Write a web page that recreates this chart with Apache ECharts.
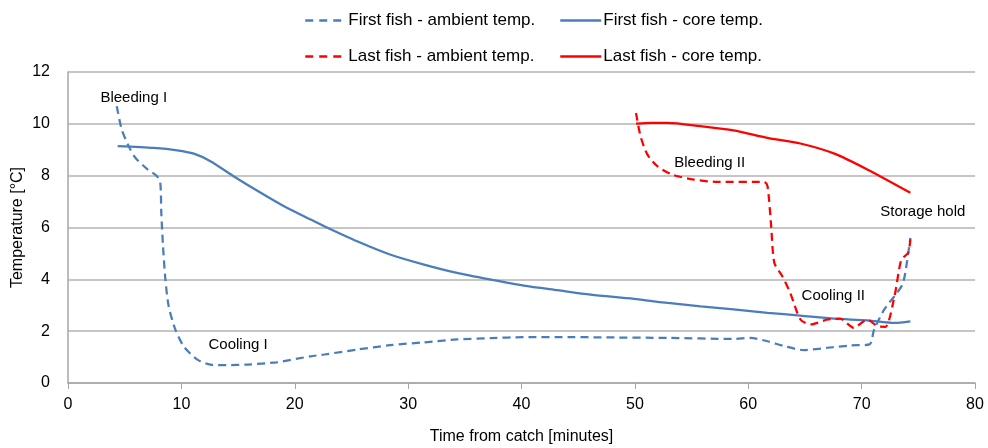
<!DOCTYPE html>
<html><head><meta charset="utf-8">
<script src="https://cdn.jsdelivr.net/npm/echarts@6/dist/echarts.min.js"></script>
<style>html,body{margin:0;padding:0;background:#fff}#c{width:988px;height:448px}</style>
</head><body><div id="c"></div>
<script>
var xTicks = [0, 10, 20, 30, 40, 50, 60, 70, 80];
var yTicks = [0, 2, 4, 6, 8, 10, 12];

var firstAmbientT = [4.3, 4.74, 5.35, 5.94, 6.97, 7.85, 8.14, 8.23, 8.38, 8.59, 8.88, 9.47, 10.2, 11.38, 12.56, 14.0, 15.8, 18.4, 21.4, 22.6, 25.5, 28.4, 31.4, 34.3, 37.3, 40.2, 44.6, 47.0, 52.9, 58.7, 60.2, 61.7, 63.2, 64.9, 67.0, 69.05, 70.7, 71.1, 72.0, 72.9, 73.6, 73.9, 74.3];
var firstAmbientV = [10.68, 9.78, 9.14, 8.69, 8.26, 7.98, 7.72, 6.57, 5.28, 4.0, 2.96, 2.06, 1.42, 0.91, 0.71, 0.69, 0.71, 0.80, 1.03, 1.10, 1.29, 1.46, 1.57, 1.68, 1.73, 1.77, 1.77, 1.76, 1.74, 1.70, 1.74, 1.61, 1.42, 1.27, 1.36, 1.45, 1.49, 2.06, 2.84, 3.35, 3.80, 4.38, 5.6];

var firstCoreT = [4.38, 7.56, 9.62, 11.1, 12.56, 14.6, 17.0, 19.3, 21.4, 22.6, 25.5, 28.4, 31.4, 34.3, 37.3, 40.2, 43.2, 46.1, 49.9, 52.9, 55.8, 58.7, 61.7, 64.6, 67.6, 70.5, 72.9, 74.3];
var firstCoreV = [9.14, 9.07, 8.98, 8.85, 8.56, 7.98, 7.34, 6.76, 6.31, 6.05, 5.47, 4.96, 4.57, 4.25, 3.99, 3.76, 3.58, 3.41, 3.25, 3.09, 2.96, 2.84, 2.71, 2.60, 2.48, 2.42, 2.32, 2.38];

var lastAmbientT = [50.1, 50.5, 51.1, 52.0, 53.3, 55.2, 57.3, 61.4, 61.7, 62.0, 62.3, 63.0, 63.7, 64.6, 65.5, 67.0, 68.1, 69.3, 70.5, 71.4, 72.1, 72.9, 73.5, 74.1, 74.3];
var lastAmbientV = [10.42, 9.52, 8.82, 8.36, 8.04, 7.85, 7.76, 7.76, 7.59, 6.18, 4.64, 4.12, 3.48, 2.45, 2.26, 2.45, 2.48, 2.13, 2.45, 2.19, 2.17, 3.35, 4.76, 5.02, 5.54];

var lastCoreT = [50.1, 51.4, 52.9, 55.8, 58.7, 61.7, 64.6, 67.6, 70.5, 74.3];
var lastCoreV = [10.01, 10.04, 10.04, 9.91, 9.75, 9.46, 9.24, 8.85, 8.24, 7.34];

var seriesNames = ['First fish - ambient temp.', 'First fish - core temp.', 'Last fish - ambient temp.', 'Last fish - core temp.'];
var phaseLabels = ['Bleeding I', 'Cooling I', 'Bleeding II', 'Cooling II', 'Storage hold'];
var phaseX = [5.8, 15.0, 56.6, 67.5, 75.4];
var phaseY = [11.0, 1.48, 8.5, 3.35, 6.6];

function zip(a, b) { return a.map(function (v, i) { return [v, b[i]]; }); }

var FONT = "'Liberation Sans', Arial, sans-serif";
var BLUE = '#4a7ebb', RED = '#ff0000';

var chart = echarts.init(document.getElementById('c'));

function mkLine(name, data, color, dashed) {
  return {
    name: name, type: 'line', data: data, showSymbol: false, symbol: 'none',
    smooth: 0.25, animation: false,
    lineStyle: { color: color, width: 2.25, type: dashed ? [8, 5] : 'solid' },
    itemStyle: { color: color }
  };
}

function mkLegend(name, left, top, dashed) {
  return {
    data: [name], left: left, top: top, itemWidth: 41, itemHeight: 12, itemGap: 4,
    itemStyle: { opacity: 0 },
    lineStyle: { width: 2.5, type: dashed ? [8, 6] : 'solid' },
    textStyle: { fontFamily: FONT, fontSize: 17, color: '#000', padding: [0, 0, 0, -3] }
  };
}

var axisFont = { fontFamily: FONT, fontSize: 16, color: '#000' };

chart.setOption({
  animation: false,
  textStyle: { fontFamily: FONT },
  grid: { left: 68, right: 13, top: 72, bottom: 65, containLabel: false, outerBoundsMode: 'none' },
  legend: [
    mkLegend(seriesNames[0], 299, 7, true),
    mkLegend(seriesNames[1], 554, 7, false),
    mkLegend(seriesNames[2], 299, 43, true),
    mkLegend(seriesNames[3], 554, 43, false)
  ],
  xAxis: {
    type: 'value', min: xTicks[0], max: xTicks[xTicks.length - 1], interval: 10,
    name: 'Time from catch [minutes]', nameLocation: 'middle', nameGap: 46,
    nameTextStyle: axisFont,
    axisLine: { show: true, lineStyle: { color: '#a6a6a6', width: 1.5 } },
    axisTick: { show: true, length: 6, lineStyle: { color: '#a6a6a6' } },
    axisLabel: Object.assign({ margin: 14 }, axisFont),
    splitLine: { show: false }
  },
  yAxis: {
    type: 'value', min: yTicks[0], max: yTicks[yTicks.length - 1], interval: 2,
    name: 'Temperature [°C]', nameLocation: 'middle', nameGap: 42, nameMoveOverlap: false,
    nameTextStyle: axisFont,
    axisLine: { show: true, lineStyle: { color: '#a6a6a6', width: 1.5 } },
    axisTick: { show: false },
    axisLabel: Object.assign({ margin: 18 }, axisFont),
    splitLine: { show: true, lineStyle: { color: '#b3b3b3', width: 1.5 } }
  },
  series: [
    mkLine(seriesNames[0], zip(firstAmbientT, firstAmbientV), BLUE, true),
    mkLine(seriesNames[1], zip(firstCoreT, firstCoreV), BLUE, false),
    mkLine(seriesNames[2], zip(lastAmbientT, lastAmbientV), RED, true),
    mkLine(seriesNames[3], zip(lastCoreT, lastCoreV), RED, false)
  ]
});

var graphics = phaseLabels.map(function (t, i) {
  var p = chart.convertToPixel({ gridIndex: 0 }, [phaseX[i], phaseY[i]]);
  return {
    type: 'text', x: p[0], y: p[1], z: 100,
    style: { text: t, fill: '#000', font: '15px ' + FONT, align: 'center', verticalAlign: 'middle' }
  };
});
chart.setOption({ graphic: graphics });
</script></body></html>
